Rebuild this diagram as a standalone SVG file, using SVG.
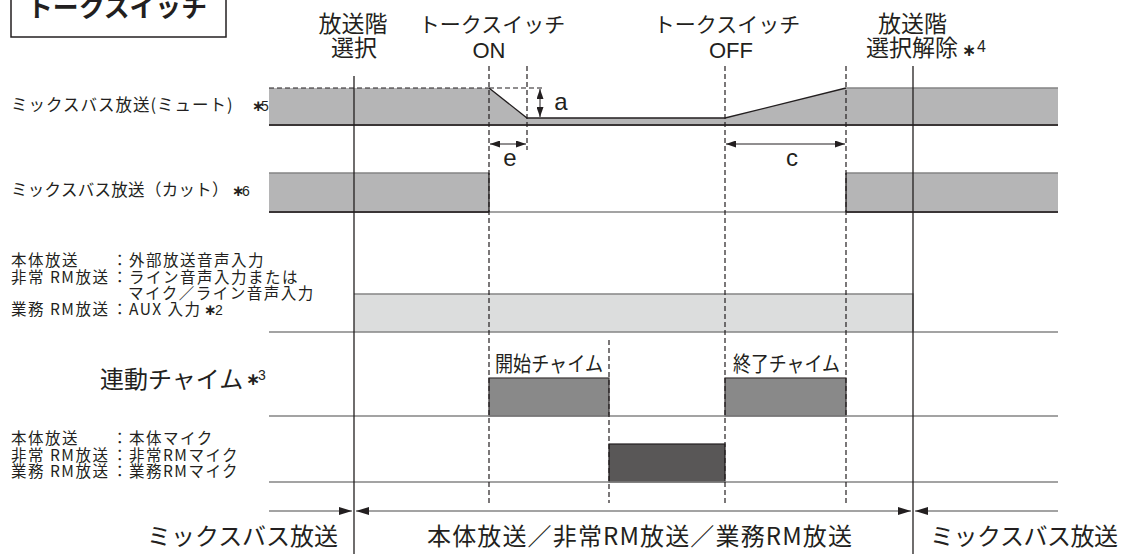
<svg xmlns="http://www.w3.org/2000/svg" width="1123" height="554" viewBox="0 0 1123 554">
<style>
  text { font-family: 'Noto Sans CJK JP', 'Noto Sans', sans-serif; fill: #231f20; }
  .lat { font-family: 'Liberation Sans', Arial, sans-serif; }
  .ast { font-family: 'DejaVu Sans', sans-serif; font-weight: bold; }
  .lbl { font-size: 15.5px; letter-spacing: 1.5px; }
  .top { font-size: 23px; }
  .big { font-size: 24px; }
  .dash { stroke: #231f20; stroke-width: 1.2; stroke-dasharray: 5 3; fill: none; }
  .solid { stroke: #231f20; stroke-width: 1.3; fill: none; }
  .base { stroke: #858585; stroke-width: 1.3; fill: none; }
  .dark { stroke: #3a3536; stroke-width: 2; fill: none; }
  .thin { stroke: #231f20; stroke-width: 1; fill: none; }
</style>
<defs>
  <marker id="ah" viewBox="0 0 13 8" refX="13" refY="4" markerWidth="13" markerHeight="8" markerUnits="userSpaceOnUse" orient="auto-start-reverse">
    <path d="M0,0 L13,4 L0,8 z" fill="#231f20"/>
  </marker>
  <marker id="ahs" viewBox="0 0 10 7" refX="10" refY="3.5" markerWidth="10" markerHeight="7" markerUnits="userSpaceOnUse" orient="auto-start-reverse">
    <path d="M0,0 L10,3.5 L0,7 z" fill="#231f20"/>
  </marker>
</defs>
<rect width="1123" height="554" fill="#ffffff"/>

<g id="title">
  <rect x="11" y="-10" width="215" height="47" fill="#ffffff" stroke="#231f20" stroke-width="1.5"/>
  <text x="27" y="17" font-size="26" font-weight="bold" textLength="180" lengthAdjust="spacingAndGlyphs">トークスイッチ</text>
</g>

<g id="top-labels">
  <text class="top" text-anchor="middle"><tspan x="353" y="31.5">放送階</tspan><tspan x="354" y="56">選択</tspan></text>
  <text text-anchor="middle"><tspan x="492" y="31.5" font-size="21">トークスイッチ</tspan><tspan class="lat" x="489" y="58" font-size="22">ON</tspan></text>
  <text text-anchor="middle"><tspan x="727" y="31.5" font-size="21">トークスイッチ</tspan><tspan class="lat" x="731" y="58" font-size="22">OFF</tspan></text>
  <text class="top"><tspan x="912.5" y="31.5" text-anchor="middle">放送階</tspan><tspan x="866" y="56">選択解除</tspan><tspan class="ast" x="962" y="56" font-size="17">∗</tspan><tspan class="lat" x="977" y="52" font-size="16">4</tspan></text>
</g>

<g id="row-mute">
  <polygon points="269,88 489,88 527,118 725,118 846,88 1058,88 1058,125 269,125" fill="#b5b5b6"/>
  <line x1="269" y1="88" x2="489" y2="88" class="dash"/>
  <polyline points="489,88 527,118 725,118 846,88" class="solid"/>
  <line x1="846" y1="88" x2="1058" y2="88" class="base"/>
  <line x1="269" y1="125" x2="1058" y2="125" class="dark"/>
  <text font-size="16.5"><tspan x="11" y="111" letter-spacing="1">ミックスバス放送(ミュート)</tspan><tspan class="ast" x="252" y="111" font-size="15">∗</tspan><tspan class="lat" x="261" y="111" font-size="14">5</tspan></text>
</g>

<g id="row-cut">
  <rect x="269" y="173" width="220" height="39" fill="#b5b5b6"/>
  <rect x="846" y="173" width="212" height="39" fill="#b5b5b6"/>
  <line x1="269" y1="173" x2="489" y2="173" class="base"/>
  <line x1="846" y1="173" x2="1058" y2="173" class="base"/>
  <line x1="489" y1="212" x2="846" y2="212" class="base"/>
  <line x1="269" y1="212" x2="489" y2="212" class="dark"/>
  <line x1="846" y1="212" x2="1058" y2="212" class="dark"/>
  <line x1="489" y1="173" x2="489" y2="212" class="solid"/>
  <line x1="846" y1="173" x2="846" y2="212" class="solid"/>
  <text font-size="16.5"><tspan x="11" y="196" letter-spacing="0.3">ミックスバス放送（カット）</tspan><tspan class="ast" x="232" y="196" font-size="15">∗</tspan><tspan class="lat" x="242" y="196" font-size="14">6</tspan></text>
</g>

<g id="row-external">
  <rect x="354" y="294" width="559" height="38" fill="#dcdddd"/>
  <polyline points="354,294 913,294 913,332" class="base"/>
  <line x1="269" y1="332" x2="1058" y2="332" class="base"/>
  <text class="lbl"><tspan x="11" y="266">本体放送</tspan><tspan x="112" y="266">：外部放送音声入力</tspan><tspan x="11" y="283">非常 RM放送</tspan><tspan x="112" y="283">：ライン音声入力または</tspan><tspan x="128" y="299">マイク／ライン音声入力</tspan><tspan x="11" y="315">業務 RM放送</tspan><tspan x="112" y="315">：AUX 入力</tspan><tspan class="ast" x="204" y="315" font-size="15" letter-spacing="0">∗</tspan><tspan class="lat" x="215" y="315" font-size="14" letter-spacing="0">2</tspan></text>
</g>

<g id="row-chime">
  <rect x="489" y="378" width="120" height="38" fill="#898989" stroke="#3a3536" stroke-width="1.2"/>
  <rect x="725" y="378" width="121" height="38" fill="#898989" stroke="#3a3536" stroke-width="1.2"/>
  <line x1="269" y1="416" x2="1058" y2="416" class="base"/>
  <text font-size="24"><tspan x="100" y="388">連動チャイム</tspan><tspan class="ast" x="246" y="385" font-size="17">∗</tspan><tspan class="lat" x="258" y="380" font-size="14">3</tspan></text>
  <text x="495" y="371" font-size="21" textLength="108" lengthAdjust="spacingAndGlyphs">開始チャイム</text>
  <text x="733" y="371" font-size="21" textLength="107" lengthAdjust="spacingAndGlyphs">終了チャイム</text>
</g>

<g id="row-mic">
  <rect x="609" y="444" width="116" height="38" fill="#595757" stroke="#231f20" stroke-width="1.2"/>
  <line x1="269" y1="482" x2="1058" y2="482" class="base"/>
  <text class="lbl"><tspan x="11" y="444">本体放送</tspan><tspan x="112" y="444">：本体マイク</tspan><tspan x="11" y="461">非常 RM放送</tspan><tspan x="112" y="461">：非常RMマイク</tspan><tspan x="11" y="477">業務 RM放送</tspan><tspan x="112" y="477">：業務RMマイク</tspan></text>
</g>

<g id="connectors">
  <line x1="354" y1="76" x2="354" y2="554" class="solid"/>
  <line x1="913" y1="66" x2="913" y2="554" class="solid"/>
  <line x1="489" y1="66" x2="489" y2="503" class="dash"/>
  <line x1="527" y1="66" x2="527" y2="150" class="dash"/>
  <line x1="725" y1="66" x2="725" y2="503" class="dash"/>
  <line x1="846" y1="66" x2="846" y2="503" class="dash"/>
  <line x1="609" y1="340" x2="609" y2="503" class="dash"/>
  <line x1="489" y1="88" x2="543" y2="88" class="dash"/>
  <line x1="540" y1="89" x2="540" y2="117" class="thin" marker-start="url(#ahs)" marker-end="url(#ahs)"/>
  <line x1="490" y1="144" x2="526" y2="144" class="thin" marker-start="url(#ahs)" marker-end="url(#ahs)"/>
  <line x1="726" y1="144" x2="845" y2="144" class="thin" marker-start="url(#ahs)" marker-end="url(#ahs)"/>
  <line x1="269" y1="511" x2="352" y2="511" class="base" marker-end="url(#ah)"/>
  <line x1="356" y1="511" x2="911" y2="511" class="base" marker-start="url(#ah)" marker-end="url(#ah)"/>
  <line x1="1058" y1="511" x2="915" y2="511" class="base" marker-end="url(#ah)"/>
</g>

<g id="dim-labels">
  <text class="lat" x="561" y="110" font-size="24" text-anchor="middle">a</text>
  <text class="lat" x="510" y="166" font-size="24" text-anchor="middle">e</text>
  <text class="lat" x="792" y="166" font-size="24" text-anchor="middle">c</text>
</g>

<g id="bottom-labels">
  <text class="big" x="147" y="545" textLength="191" lengthAdjust="spacing">ミックスバス放送</text>
  <text class="big" x="427" y="545" textLength="425" lengthAdjust="spacing">本体放送／非常RM放送／業務RM放送</text>
  <text class="big" x="930" y="545" textLength="188" lengthAdjust="spacing">ミックスバス放送</text>
</g>
</svg>
